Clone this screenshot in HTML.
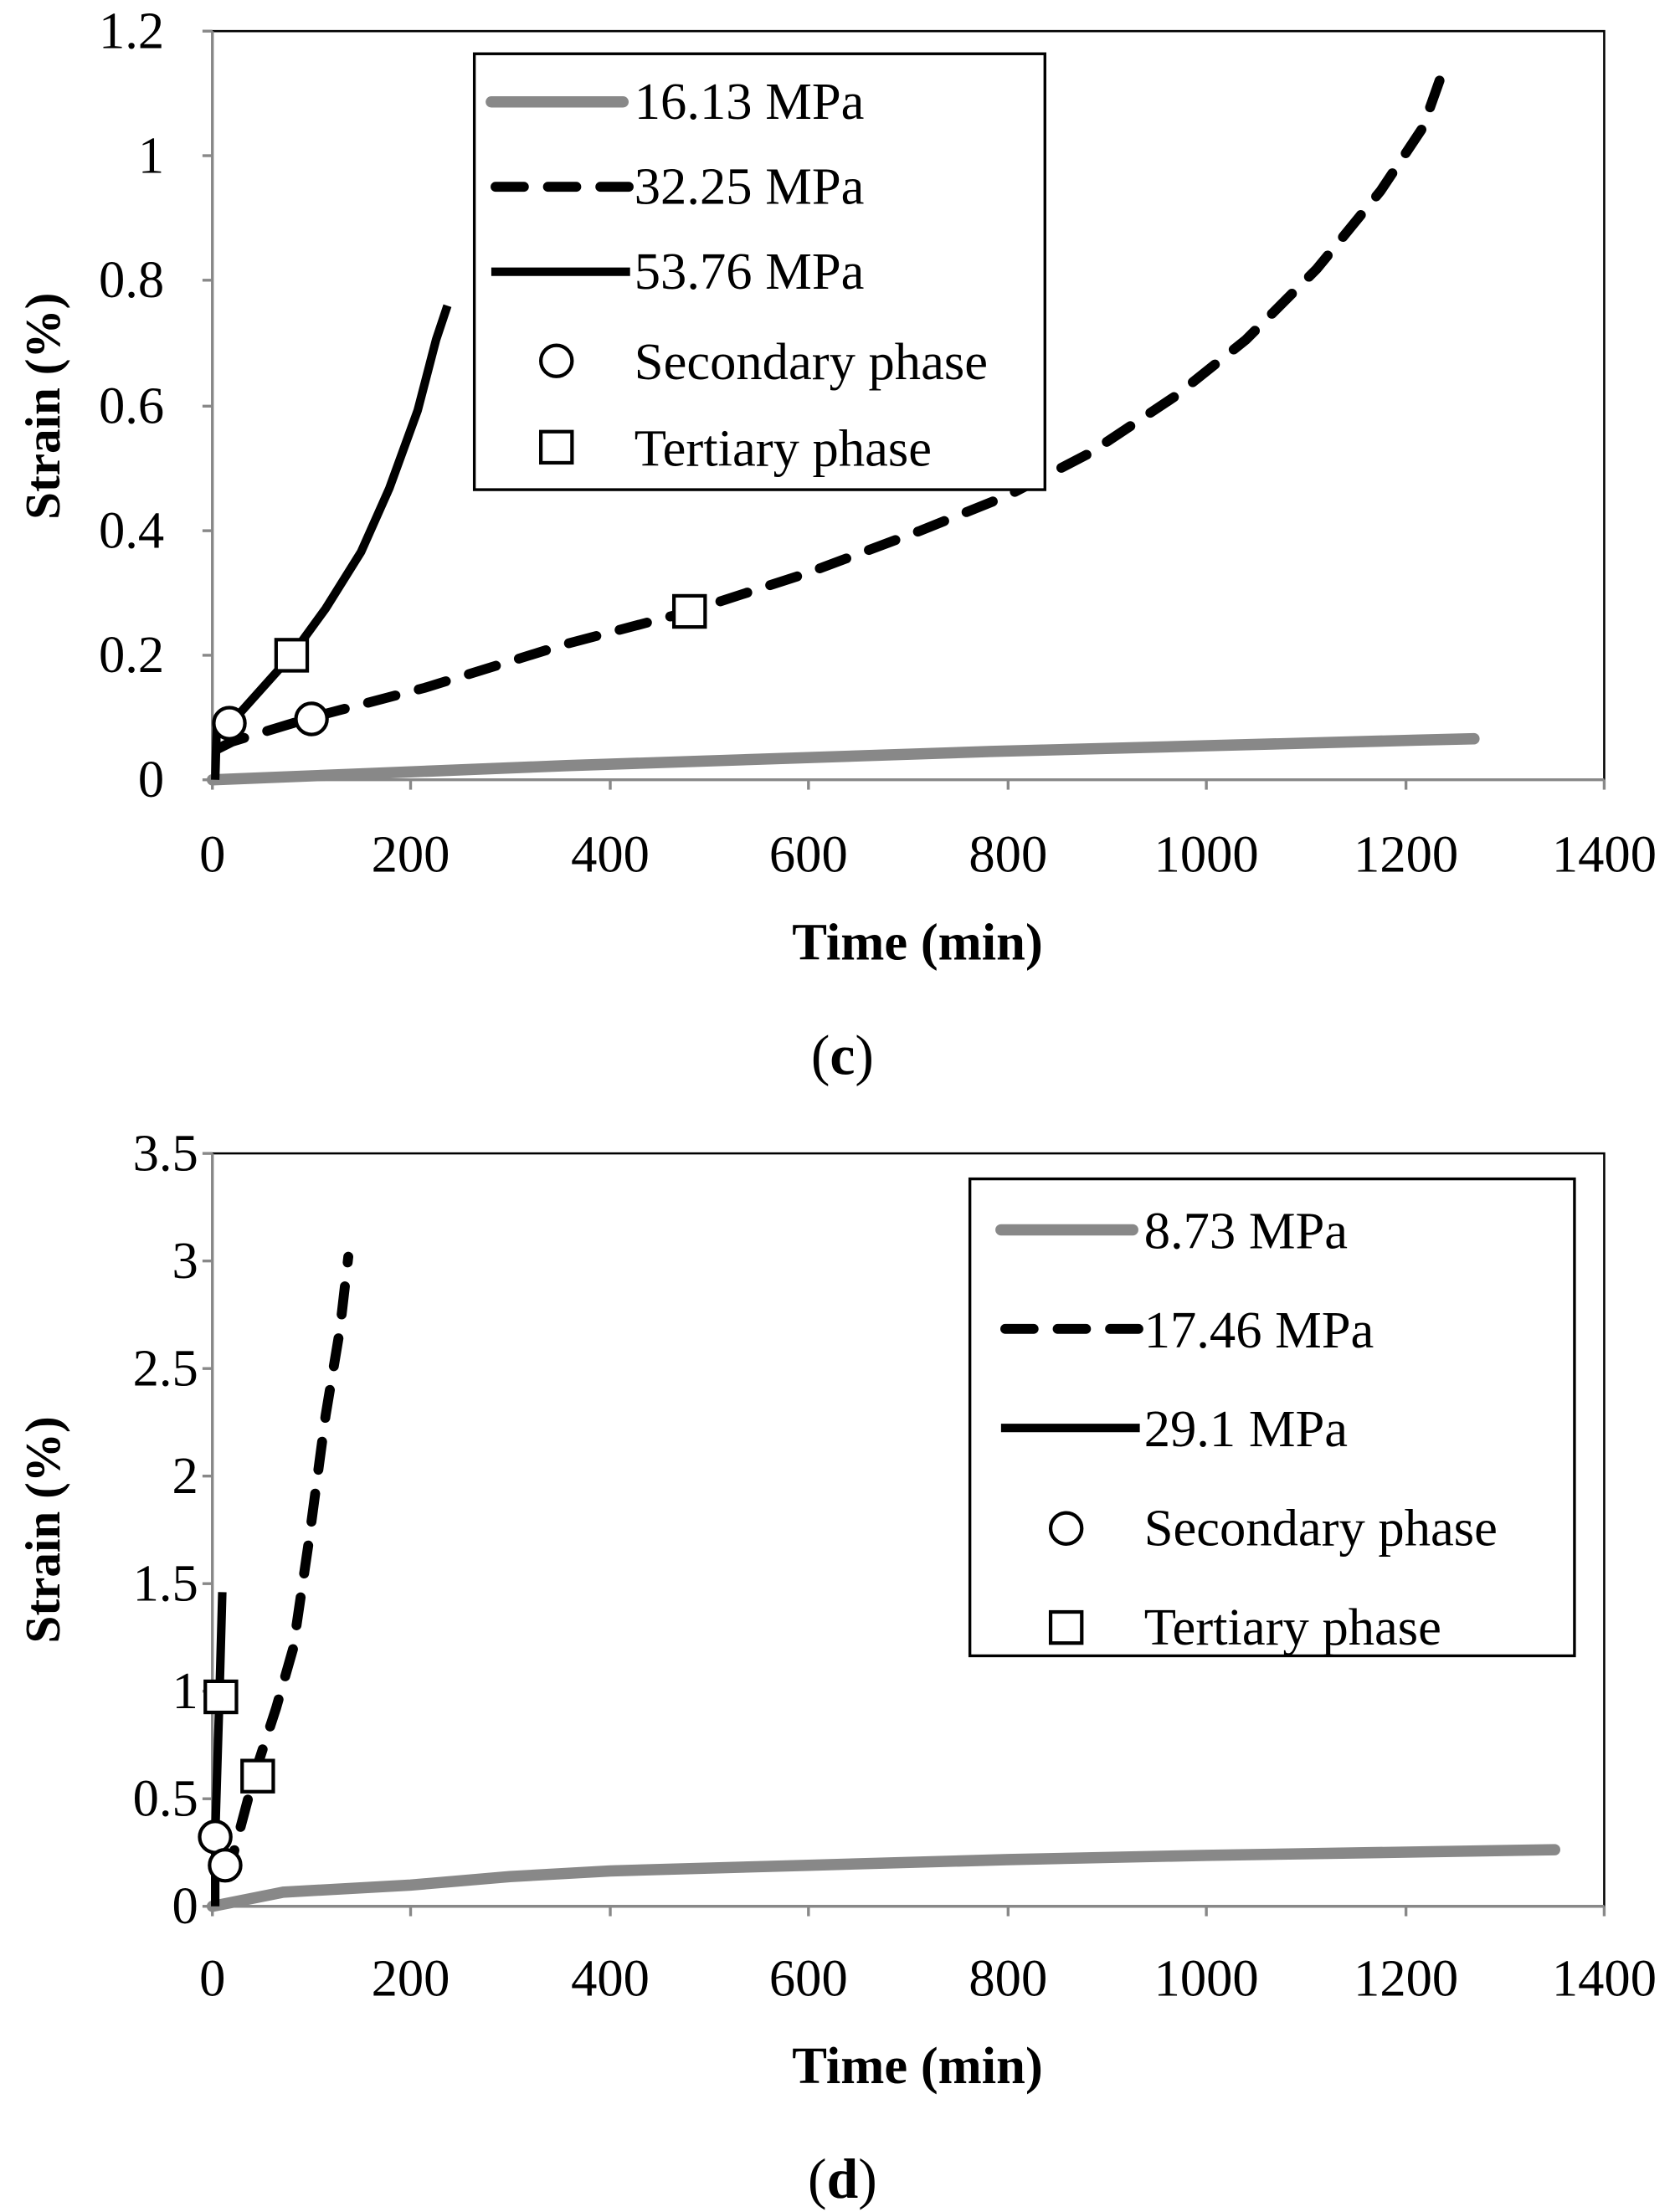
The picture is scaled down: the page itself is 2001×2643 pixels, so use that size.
<!DOCTYPE html>
<html><head><style>body{margin:0;background:#fff}svg{display:block}</style></head>
<body>
<svg width="2001" height="2643" viewBox="0 0 1183 1563" preserveAspectRatio="none" xmlns="http://www.w3.org/2000/svg" font-family="Liberation Serif, serif">
<rect width="1183" height="1563" fill="#fff"/>
<!-- TOP CHART -->
<g>
<polyline points="150,22 1133,22 1133,551" fill="none" stroke="#000" stroke-width="1.5"/>
<line x1="150" y1="22" x2="150" y2="551" stroke="#888" stroke-width="2"/>
<line x1="150" y1="551" x2="1133" y2="551" stroke="#888" stroke-width="2"/>
<g stroke="#888" stroke-width="2">
<line x1="143" y1="22" x2="150" y2="22"/><line x1="143" y1="110" x2="150" y2="110"/><line x1="143" y1="198" x2="150" y2="198"/><line x1="143" y1="287" x2="150" y2="287"/><line x1="143" y1="375" x2="150" y2="375"/><line x1="143" y1="463" x2="150" y2="463"/><line x1="143" y1="551" x2="150" y2="551"/>
<line x1="150" y1="551" x2="150" y2="558"/><line x1="290" y1="551" x2="290" y2="558"/><line x1="431" y1="551" x2="431" y2="558"/><line x1="571" y1="551" x2="571" y2="558"/><line x1="712" y1="551" x2="712" y2="558"/><line x1="852" y1="551" x2="852" y2="558"/><line x1="993" y1="551" x2="993" y2="558"/><line x1="1133" y1="551" x2="1133" y2="558"/>
</g>
<g font-size="37" text-anchor="end">
<text x="116" y="34">1.2</text><text x="116" y="122">1</text><text x="116" y="210">0.8</text><text x="116" y="299">0.6</text><text x="116" y="387">0.4</text><text x="116" y="475">0.2</text><text x="116" y="563">0</text>
</g>
<g font-size="37" text-anchor="middle">
<text x="150" y="616">0</text><text x="290" y="616">200</text><text x="431" y="616">400</text><text x="571" y="616">600</text><text x="712" y="616">800</text><text x="852" y="616">1000</text><text x="993" y="616">1200</text><text x="1133" y="616">1400</text>
</g>
<text x="648" y="678" font-size="37" font-weight="bold" text-anchor="middle">Time (min)</text>
<text transform="translate(42,287) rotate(-90)" font-size="35" font-weight="bold" text-anchor="middle">Strain (%)</text>
<text x="595" y="759" font-size="40" text-anchor="middle">(<tspan font-weight="bold">c</tspan>)</text>
<path d="M150,551 L250,547 L400,541 L550,536 L700,531 L850,527 L1000,523 L1041,522" fill="none" stroke="#888" stroke-width="8" stroke-linecap="round"/>
<path d="M154,529 L164,524 L220,507 L300,486 L400,455 L487,432 L570,405 L650,375 L712,350 L770,320 L830,280 L880,240 L930,190 L975,135 L1005,90 L1022,42" fill="none" stroke="#000" stroke-width="7" stroke-linecap="round" stroke-dasharray="20,17"/>
<path d="M152,551 L153,515 L163,511 L206,463 L230,430 L255,390 L275,345 L295,290 L308,240 L316,216" fill="none" stroke="#000" stroke-width="6"/>
<g fill="#fff" stroke="#000" stroke-width="2.5">
<circle cx="162" cy="511" r="11"/><circle cx="220" cy="508" r="11"/>
<rect x="195" y="452" width="22" height="22"/><rect x="476" y="421" width="22" height="22"/>
</g>
<rect x="335" y="38" width="403" height="308" fill="#fff" stroke="#000" stroke-width="2"/>
<line x1="347" y1="72" x2="440" y2="72" stroke="#888" stroke-width="8" stroke-linecap="round"/>
<line x1="350" y1="132" x2="445" y2="132" stroke="#000" stroke-width="7" stroke-linecap="round" stroke-dasharray="20,17"/>
<line x1="347" y1="192" x2="445" y2="192" stroke="#000" stroke-width="6"/>
<circle cx="393" cy="255" r="11" fill="#fff" stroke="#000" stroke-width="2.5"/>
<rect x="382" y="305" width="22" height="22" fill="#fff" stroke="#000" stroke-width="2.5"/>
<g font-size="37"><text x="448" y="84">16.13 MPa</text><text x="448" y="144">32.25 MPa</text><text x="448" y="204">53.76 MPa</text><text x="448" y="268">Secondary phase</text><text x="448" y="329">Tertiary phase</text></g>
</g>
<!-- BOTTOM CHART -->
<g>
<polyline points="150,815 1133,815 1133,1347" fill="none" stroke="#000" stroke-width="1.5"/>
<line x1="150" y1="815" x2="150" y2="1347" stroke="#888" stroke-width="2"/>
<line x1="150" y1="1347" x2="1133" y2="1347" stroke="#888" stroke-width="2"/>
<g stroke="#888" stroke-width="2">
<line x1="143" y1="815" x2="150" y2="815"/><line x1="143" y1="891" x2="150" y2="891"/><line x1="143" y1="967" x2="150" y2="967"/><line x1="143" y1="1043" x2="150" y2="1043"/><line x1="143" y1="1119" x2="150" y2="1119"/><line x1="143" y1="1195" x2="150" y2="1195"/><line x1="143" y1="1271" x2="150" y2="1271"/><line x1="143" y1="1347" x2="150" y2="1347"/>
<line x1="150" y1="1347" x2="150" y2="1354"/><line x1="290" y1="1347" x2="290" y2="1354"/><line x1="431" y1="1347" x2="431" y2="1354"/><line x1="571" y1="1347" x2="571" y2="1354"/><line x1="712" y1="1347" x2="712" y2="1354"/><line x1="852" y1="1347" x2="852" y2="1354"/><line x1="993" y1="1347" x2="993" y2="1354"/><line x1="1133" y1="1347" x2="1133" y2="1354"/>
</g>
<g font-size="37" text-anchor="end">
<text x="140" y="827">3.5</text><text x="140" y="903">3</text><text x="140" y="979">2.5</text><text x="140" y="1055">2</text><text x="140" y="1131">1.5</text><text x="140" y="1207">1</text><text x="140" y="1283">0.5</text><text x="140" y="1359">0</text>
</g>
<g font-size="37" text-anchor="middle">
<text x="150" y="1410">0</text><text x="290" y="1410">200</text><text x="431" y="1410">400</text><text x="571" y="1410">600</text><text x="712" y="1410">800</text><text x="852" y="1410">1000</text><text x="993" y="1410">1200</text><text x="1133" y="1410">1400</text>
</g>
<text x="648" y="1472" font-size="37" font-weight="bold" text-anchor="middle">Time (min)</text>
<text transform="translate(42,1081) rotate(-90)" font-size="35" font-weight="bold" text-anchor="middle">Strain (%)</text>
<text x="595" y="1553" font-size="40" text-anchor="middle">(<tspan font-weight="bold">d</tspan>)</text>
<path d="M150,1347 L200,1337 L290,1332 L360,1326 L431,1322 L571,1318 L712,1314 L852,1311 L1098,1307" fill="none" stroke="#888" stroke-width="8" stroke-linecap="round"/>
<path d="M157,1325 L163,1317 L180,1253 L195,1207 L207,1165 L218,1090 L230,1000 L240,940 L246,888" fill="none" stroke="#000" stroke-width="7" stroke-linecap="round" stroke-dasharray="20,17"/>
<path d="M152,1347 L152,1297 L155,1198 L157,1125" fill="none" stroke="#000" stroke-width="6"/>
<g fill="#fff" stroke="#000" stroke-width="2.5">
<circle cx="152" cy="1298" r="11"/><circle cx="159" cy="1318" r="11"/>
<rect x="145" y="1188" width="22" height="22"/><rect x="171" y="1244" width="22" height="22"/>
</g>
<rect x="685" y="833" width="427" height="337" fill="#fff" stroke="#000" stroke-width="2"/>
<line x1="707" y1="869" x2="800" y2="869" stroke="#888" stroke-width="8" stroke-linecap="round"/>
<line x1="710" y1="939" x2="805" y2="939" stroke="#000" stroke-width="7" stroke-linecap="round" stroke-dasharray="20,17"/>
<line x1="707" y1="1009" x2="805" y2="1009" stroke="#000" stroke-width="6"/>
<circle cx="753" cy="1080" r="11" fill="#fff" stroke="#000" stroke-width="2.5"/>
<rect x="742" y="1139" width="22" height="22" fill="#fff" stroke="#000" stroke-width="2.5"/>
<g font-size="37"><text x="808" y="882">8.73 MPa</text><text x="808" y="952">17.46 MPa</text><text x="808" y="1022">29.1 MPa</text><text x="808" y="1092">Secondary phase</text><text x="808" y="1162">Tertiary phase</text></g>
</g>
</svg>
</body></html>
